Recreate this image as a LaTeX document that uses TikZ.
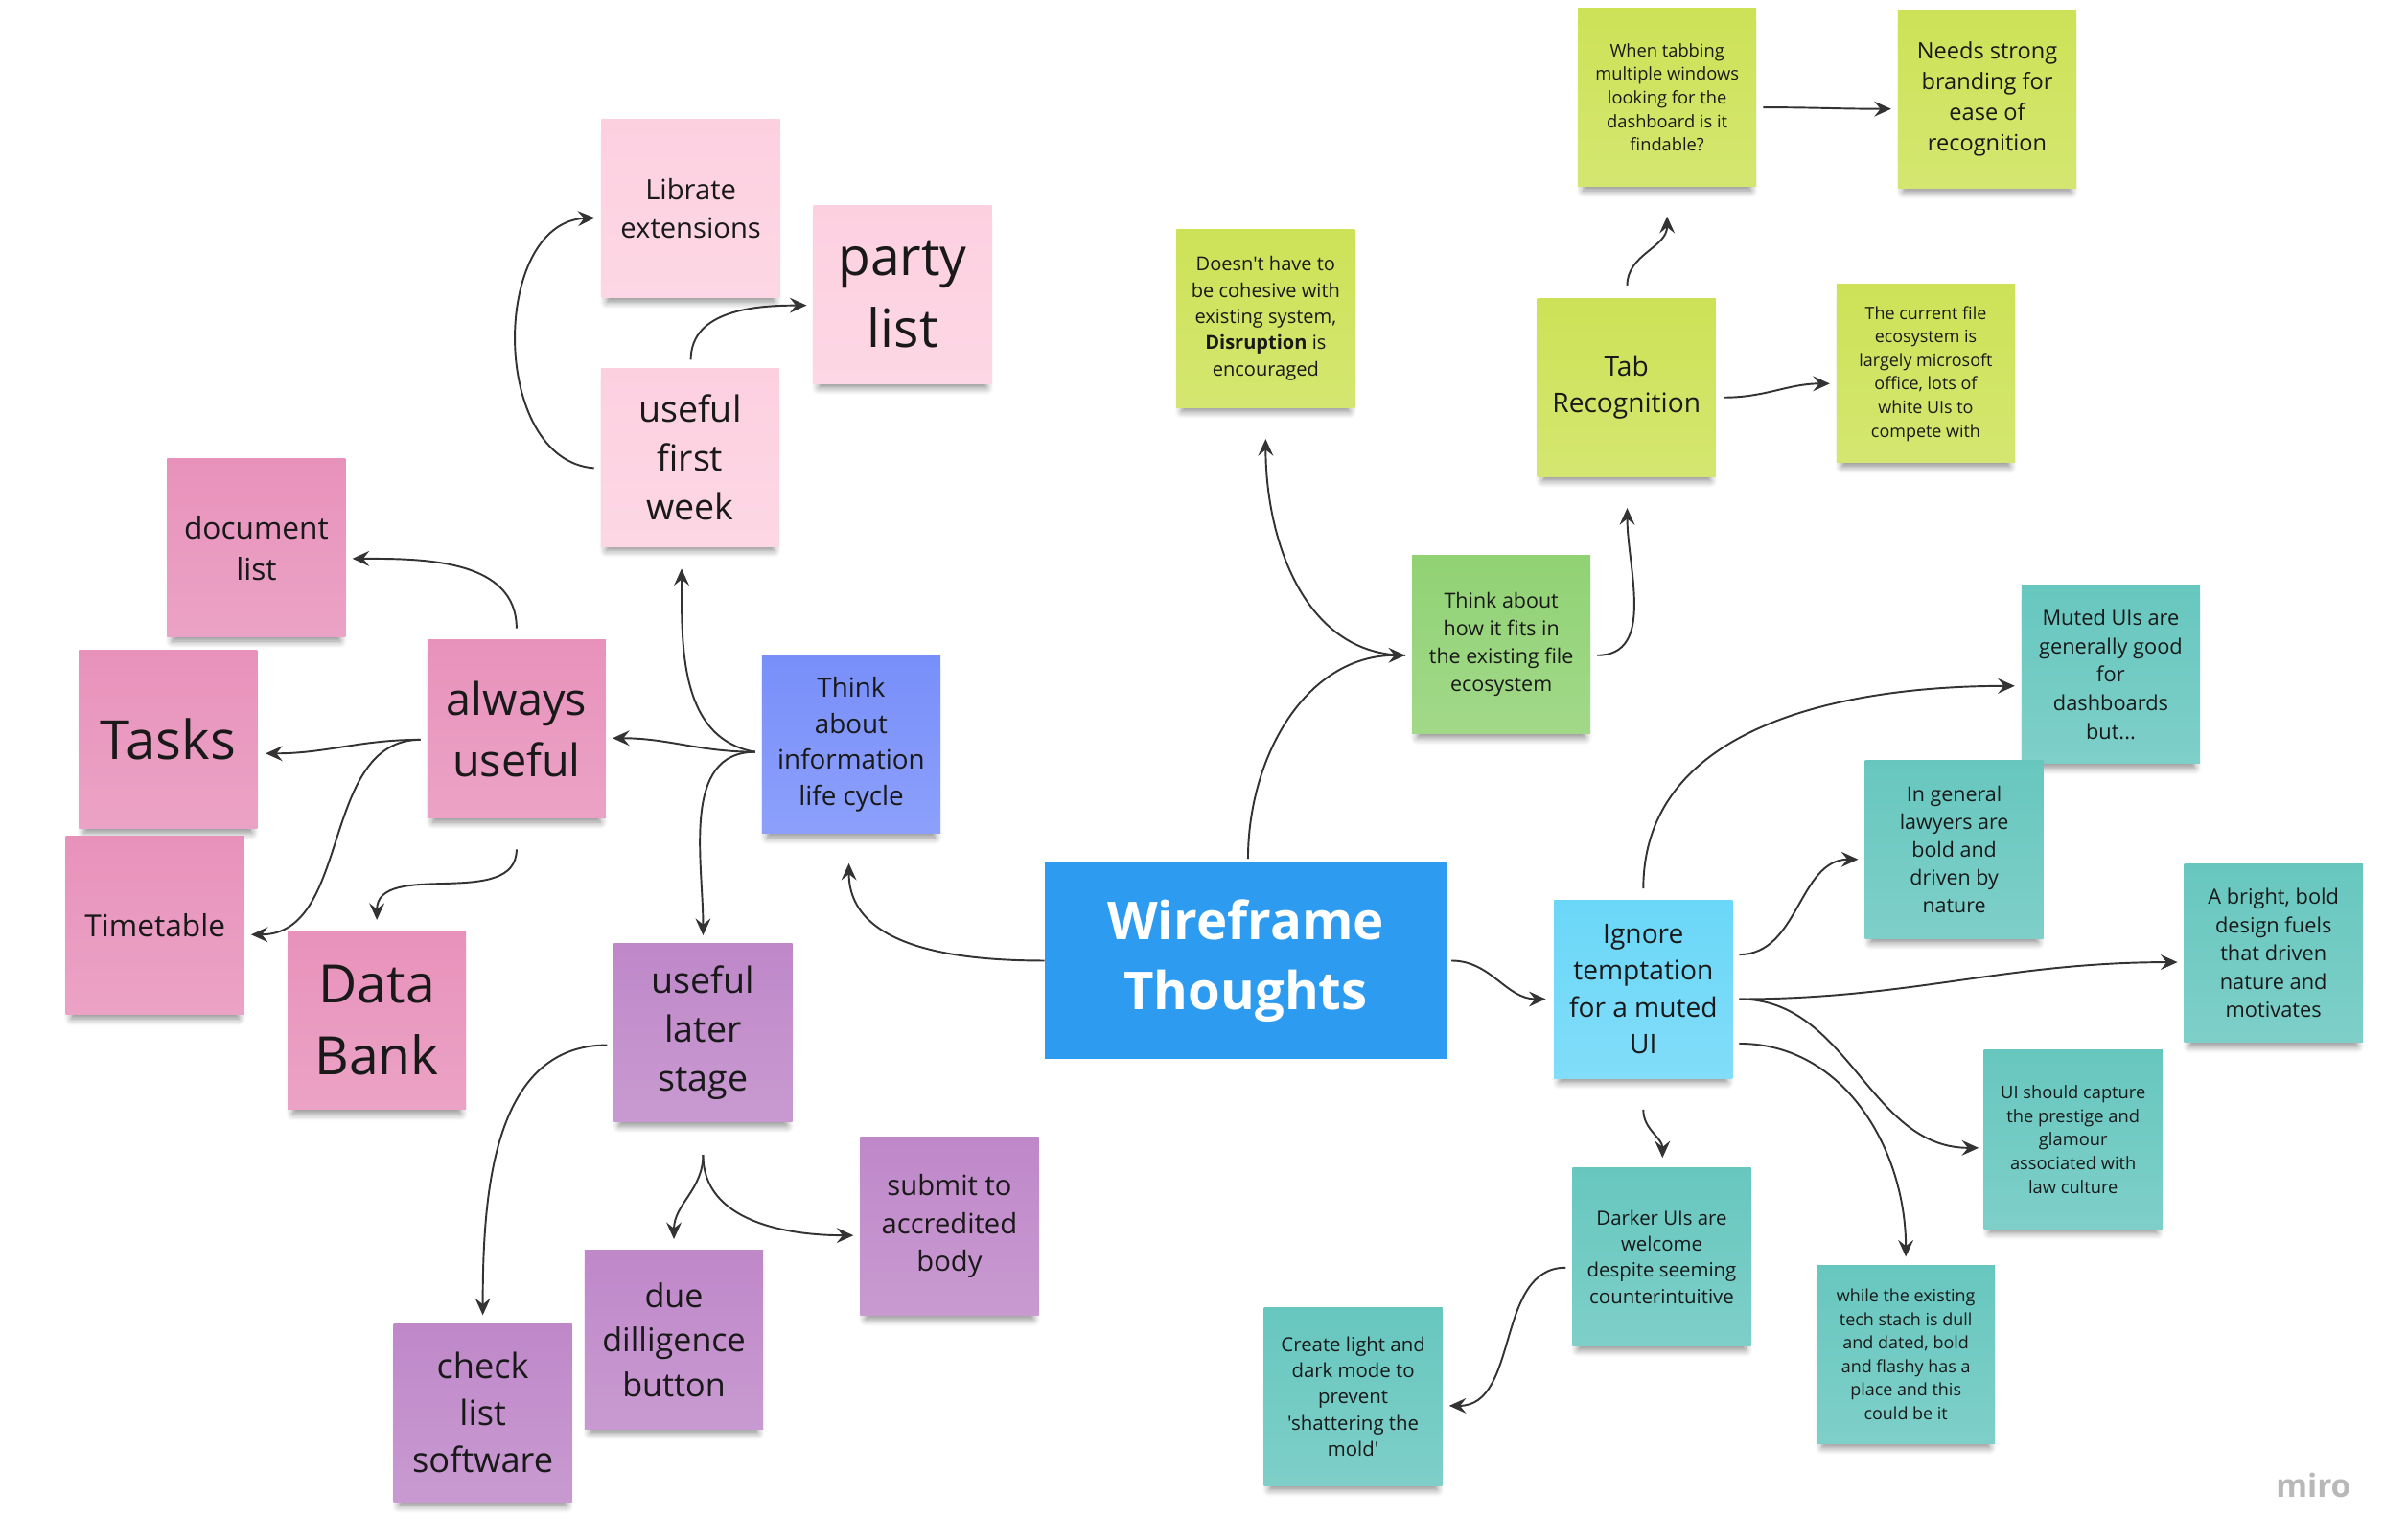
\documentclass[tikz,border=0pt]{standalone}
\usepackage{fontspec}
\setmainfont{Open Sans}[Ligatures=TeXOff]
\usetikzlibrary{arrows.meta,shadows.blur,calc}

\definecolor{palepink}{HTML}{FDD0E0}
\definecolor{rosepink}{HTML}{E892BB}
\definecolor{periwinkle}{HTML}{788FFA}
\definecolor{lilac}{HTML}{BF88C9}
\definecolor{hubblue}{HTML}{2D9BF0}
\definecolor{limenote}{HTML}{CDE257}
\definecolor{leafnote}{HTML}{91D274}
\definecolor{skynote}{HTML}{6BD7F8}
\definecolor{tealnote}{HTML}{67C7BF}

\newcommand{\fz}[2]{\fontsize{#1}{#2}\selectfont}

\tikzset{
  note/.style={minimum width=1.86cm, minimum height=1.86cm, inner sep=0pt, align=center, text=black!90,
    top color=#1, bottom color=#1!85!white,
    blur shadow={shadow xshift=0pt, shadow yshift=-3pt, shadow opacity=45, shadow blur steps=6, shadow scale=.94}},
  link/.style={-{Stealth[length=5pt,width=4.5pt,inset=1.8pt]}, draw=black!80, line width=.55pt}
}

\begin{document}
\begin{tikzpicture}[x=0.016cm, y=-0.016cm]
\useasboundingbox (0,0) rectangle (1553,1003);

\node[note=palepink,font=\fz{8.3}{11.3}] (libre) at (450,136) {Librate\\extensions};
\node[note=palepink,font=\fz{15.7}{21.3}] (party) at (588,192) {party\\list};
\node[note=palepink,font=\fz{10.7}{14.5}] (firstweek) at (449.5,298) {useful\\first\\week};
\node[note=rosepink,font=\fz{9}{12.2}] (doclist) at (167,357) {document\\list};
\node[note=rosepink,font=\fz{13.3}{18.1}] (always) at (336.5,475) {always\\useful};
\node[note=rosepink,font=\fz{16}{21.3}] (tasks) at (109.5,482) {Tasks};
\node[note=rosepink,font=\fz{9}{12.2}] (timetable) at (101,603) {Timetable};
\node[note=rosepink,font=\fz{15.7}{21.3}] (databank) at (245.5,665) {Data\\Bank};
\node[note=periwinkle,font=\fz{7.9}{10.7}] (lifecycle) at (554.5,485) {Think\\about\\information\\life cycle};
\node[note=lilac,font=\fz{10.7}{14.5}] (later) at (458,673) {useful\\later\\stage};
\node[note=lilac,font=\fz{8.3}{11.3}] (submit) at (618.5,799) {submit to\\accredited\\body};
\node[note=lilac,font=\fz{9.7}{13.2}] (diligence) at (439,873) {due\\dilligence\\button};
\node[note=lilac,font=\fz{10.3}{14}] (checklist) at (314.5,920.5) {check\\list\\software};

\node[fill=hubblue, minimum width=4.18cm, minimum height=2.05cm, inner sep=0pt, align=center, text=white, font=\bfseries\fz{15.5}{20.9}] (hub) at (811.5,626) {Wireframe\\Thoughts};

\node[note=limenote,font=\fz{5.2}{7}] (tabbing) at (1086,63.5) {When tabbing\\multiple windows\\looking for the\\dashboard is it\\findable?};
\node[note=limenote,font=\fz{6.7}{9.1}] (branding) at (1294.5,64.5) {Needs strong\\branding for\\ease of\\recognition};
\node[note=limenote,font=\fz{5.7}{7.8}] (cohesive) at (824.5,207.5) {Doesn't have to\\be cohesive with\\existing system,\\\textbf{Disruption} is\\encouraged};
\node[note=limenote,font=\fz{8}{10.9}] (tabrec) at (1059.5,252.5) {Tab\\Recognition};
\node[note=limenote,font=\fz{5.1}{7}] (ecosys) at (1254.5,243.5) {The current file\\ecosystem is\\largely microsoft\\office, lots of\\white UIs to\\compete with};
\node[note=leafnote,font=\fz{6.1}{8.3}] (fits) at (978,420) {Think about\\how it fits in\\the existing file\\ecosystem};

\node[note=skynote,font=\fz{8}{10.9}] (ignore) at (1070.5,644.5) {Ignore\\temptation\\for a muted\\UI};
\node[note=tealnote,font=\fz{6.2}{8.4}] (muted) at (1375,439.5) {Muted UIs are\\generally good\\for\\dashboards\\but...};
\node[note=tealnote,font=\fz{6.1}{8.3}] (lawyers) at (1273,553.5) {In general\\lawyers are\\bold and\\driven by\\nature};
\node[note=tealnote,font=\fz{6.2}{8.4}] (bright) at (1481,621) {A bright, bold\\design fuels\\that driven\\nature and\\motivates};
\node[note=tealnote,font=\fz{5.2}{7}] (prestige) at (1350.5,742.5) {UI should capture\\the prestige and\\glamour\\associated with\\law culture};
\node[note=tealnote,font=\fz{5.8}{7.8}] (darker) at (1082.5,819) {Darker UIs are\\welcome\\despite seeming\\counterintuitive};
\node[note=tealnote,font=\fz{5.1}{7}] (techstack) at (1241.5,882.5) {while the existing\\tech stach is dull\\and dated, bold\\and flashy has a\\place and this\\could be it};
\node[note=tealnote,font=\fz{5.8}{7.8}] (lightdark) at (881.5,910) {Create light and\\dark mode to\\prevent\\'shattering the\\mold'};

\node[text=black!28, font=\bfseries\fz{9.5}{12}] (miro) at (1507,968) {miro};

\draw[link] ($(lifecycle.west)+(-4,5)$) to[out=180,in=0] ($(always.east)+(4,6)$);
\draw[link] ($(lifecycle.west)+(-4,5)$) to[out=170,in=-90] ($(firstweek.south)+(-5.5,14)$);
\draw[link] ($(lifecycle.west)+(-4,5)$) to[out=180,in=90] ($(later.north)+(0,-5)$);
\draw[link] ($(firstweek.west)+(-4,7)$) .. controls +(-68,-5) and +(-68,3) .. ($(libre.west)+(-4,6)$);
\draw[link] ($(firstweek.north)+(0.5,-5)$) to[out=90,in=180] ($(party.west)+(-4,7)$);
\draw[link] ($(always.north)+(0,-7)$) to[out=90,in=0] ($(doclist.east)+(4,7)$);
\draw[link] ($(always.west)+(-4,7)$) to[out=180,in=0] ($(tasks.east)+(5,9)$);
\draw[link] ($(always.west)+(-4,7)$) to[out=180,in=0] ($(timetable.east)+(4,6)$);
\draw[link] ($(always.south)+(0,20)$) to[out=-90,in=90] ($(databank.north)+(0,-7)$);
\draw[link] ($(later.west)+(-4,8)$) to[out=180,in=90] ($(checklist.north)+(0,-5)$);
\draw[link] ($(later.south)+(0,21)$) to[out=-90,in=90] ($(diligence.north)+(0,-7)$);
\draw[link] ($(later.south)+(0,21)$) to[out=-90,in=180] ($(submit.west)+(-4,6)$);

\draw[link] (hub.west) to[out=180,in=-90] ($(lifecycle.south)+(-1.5,19)$);
\draw[link] ($(hub.north)+(1.5,-2)$) to[out=90,in=180] ($(fits.west)+(-4,7)$);
\draw[link] ($(fits.west)+(-4,7)$) to[out=180,in=-90] ($(cohesive.south)+(0,20)$);
\draw[link] ($(fits.east)+(4,7)$) to[out=0,in=-90] ($(tabrec.south)+(0.5,20)$);
\draw[link] ($(tabrec.north)+(0.5,-8)$) to[out=90,in=-90] ($(tabbing.south)+(0,19)$);
\draw[link] ($(tabbing.east)+(4,6.5)$) to[out=0,in=180] ($(branding.west)+(-4,6.5)$);
\draw[link] ($(tabrec.east)+(5,6.5)$) to[out=0,in=180] ($(ecosys.west)+(-4,6.5)$);

\draw[link] ($(hub.east)+(3,0)$) to[out=0,in=180] ($(ignore.west)+(-5,6.5)$);
\draw[link] ($(ignore.north)+(0,-7)$) to[out=90,in=180] ($(muted.west)+(-4,7.5)$);
\draw[link] ($(ignore.east)+(4,-22.5)$) to[out=0,in=180] ($(lawyers.west)+(-4,6.5)$);
\draw[link] ($(ignore.east)+(4,6.5)$) to[out=0,in=180] ($(bright.west)+(-4,6)$);
\draw[link] ($(ignore.east)+(4,6.5)$) to[out=0,in=180] ($(prestige.west)+(-3,5.5)$);
\draw[link] ($(ignore.east)+(4,35.5)$) to[out=0,in=90] ($(techstack.north)+(0,-5)$);
\draw[link] ($(ignore.south)+(0,20)$) to[out=-90,in=90] ($(darker.north)+(0.5,-6)$);
\draw[link] ($(darker.west)+(-4,7)$) to[out=180,in=0] ($(lightdark.east)+(4,6)$);
\end{tikzpicture}
\end{document}
